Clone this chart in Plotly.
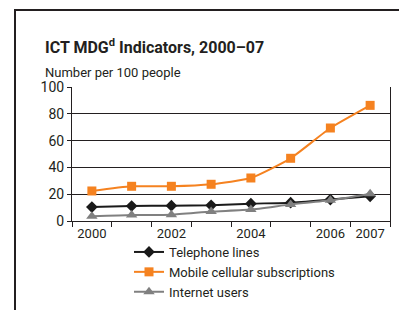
import plotly.graph_objects as go

years = ["2000", "2001", "2002", "2003", "2004", "2005", "2006", "2007"]
tick_labels = ["2000", "", "2002", "", "2004", "", "2006", "2007"]
telephone = [10.4, 11.2, 11.4, 11.7, 12.9, 13.7, 16.0, 18.4]
mobile = [22.4, 25.9, 25.9, 27.4, 32.1, 46.8, 69.4, 86.3]
internet = [3.5, 4.5, 4.7, 7.0, 8.5, 12.4, 15.4, 20.4]

FONT = "Roboto, Arial, sans-serif"

# page body has an 8px margin; work in screen px and convert
OFF = 8
W, H = 407 - OFF, 310 - OFF
L = 72 - OFF
T = 87 - OFF
R = W - (390 - OFF)
B = H - (221 - OFF)
pw = W - L - R
ph = H - T - B

def px_x(p):
    return (p - OFF - L) / pw

def px_y(p):
    return (H - B - (p - OFF)) / ph

fig = go.Figure()
fig.add_trace(go.Scatter(x=years, y=telephone, name="Telephone lines", mode="lines+markers",
                         line=dict(color="#1a1a1a", width=2, shape="spline", smoothing=0.5),
                         marker=dict(symbol="diamond", size=9, color="#1a1a1a")))
fig.add_trace(go.Scatter(x=years, y=mobile, name="Mobile cellular subscriptions", mode="lines+markers",
                         line=dict(color="#F58220", width=2, shape="spline", smoothing=0.5),
                         marker=dict(symbol="square", size=9, color="#F58220")))
fig.add_trace(go.Scatter(x=years, y=internet, name="Internet users", mode="lines+markers",
                         line=dict(color="#808080", width=2, shape="spline", smoothing=0.5),
                         marker=dict(symbol="triangle-up", size=10, color="#808080")))

fig.update_layout(
    width=W, height=H,
    margin=dict(l=L, r=R, t=T, b=B, autoexpand=False),
    paper_bgcolor="white", plot_bgcolor="white",
    font=dict(family=FONT, size=13, color="#231f20"),
    showlegend=True,
    legend=dict(x=px_x(129), y=px_y(237), xanchor="left", yanchor="top",
                orientation="v", font=dict(size=13, family=FONT, color="#231f20"),
                bgcolor="rgba(0,0,0,0)", tracegroupgap=0, itemwidth=30),
    xaxis=dict(type="category", tickmode="array", tickvals=years, ticktext=tick_labels,
               tickson="boundaries", ticks="outside", ticklen=5, tickcolor="#231f20",
               showline=True, linecolor="#231f20", linewidth=1, showgrid=False,
               tickangle=0, automargin=False,
               tickfont=dict(size=13), range=[-0.5, 7.5]),
    yaxis=dict(range=[0, 100], tickvals=[0, 20, 40, 60, 80, 100], ticks="outside", ticklen=4,
               tickcolor="#231f20", showline=True, linecolor="#231f20", linewidth=1,
               mirror=True, showgrid=True, gridcolor="#231f20", gridwidth=1, automargin=False,
               tickfont=dict(size=14), zeroline=False),
    annotations=[
        dict(text="<b>ICT MDG<sup>d</sup> Indicators, 2000–07</b>", x=px_x(43), y=px_y(59),
             xref="paper", yref="paper", xanchor="left", yanchor="bottom", showarrow=False,
             font=dict(size=16, family=FONT, color="#231f20")),
        dict(text="Number per 100 people", x=px_x(43), y=px_y(82),
             xref="paper", yref="paper", xanchor="left", yanchor="bottom", showarrow=False,
             font=dict(size=13, family=FONT, color="#231f20")),
    ],
    shapes=[
        dict(type="line", xref="paper", yref="paper", x0=px_x(15), y0=px_y(320), x1=px_x(15), y1=px_y(10),
             line=dict(color="#231f20", width=2)),
        dict(type="line", xref="paper", yref="paper", x0=px_x(14), y0=px_y(10), x1=px_x(420), y1=px_y(10),
             line=dict(color="#231f20", width=2)),
    ],
)

fig.write_html("out.html")
